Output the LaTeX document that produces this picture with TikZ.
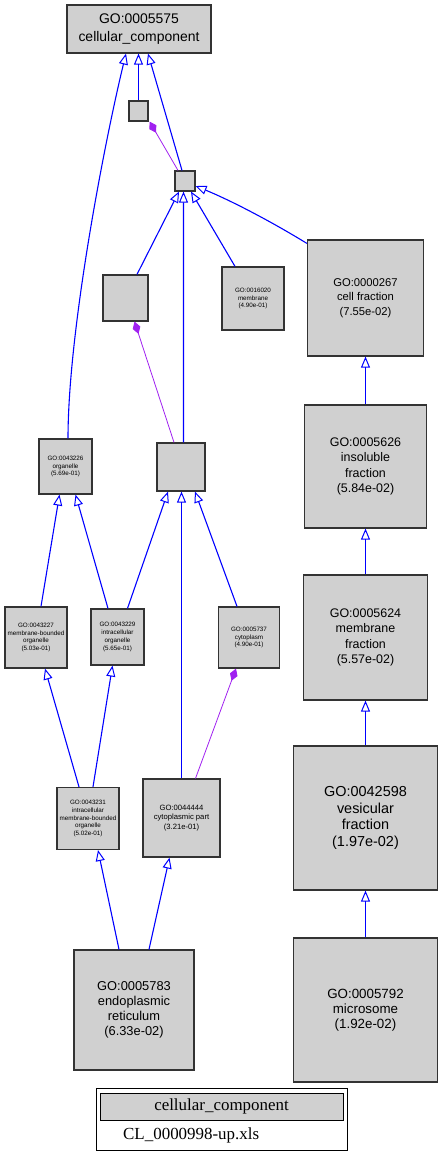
\documentclass[tikz,border=0pt]{standalone}
\usepackage{fontspec}
\setmainfont{Liberation Sans}
\newfontfamily\legendfont{Liberation Serif}
\usetikzlibrary{arrows.meta}
\definecolor{gofill}{RGB}{208,208,208}
\definecolor{isablue}{RGB}{0,0,255}
\definecolor{partpurple}{RGB}{160,32,240}
\begin{document}
\begin{tikzpicture}[x=1bp,y=-1bp,
  gobox/.style={draw=black!80, fill=gofill, line width=1.2pt, inner sep=0pt, align=center},
  tinyfont/.style={font=\fontsize{6.3}{7.9}\selectfont},
  isa/.style={draw=isablue, line width=1.1pt, -{Triangle[open, length=11pt, width=9pt, line width=1pt]}},
  isav/.style={isa, line width=1.45pt, -{Triangle[open, length=11pt, width=9pt, line width=1pt]}},
  partof/.style={draw=partpurple, line width=0.8pt, -{Diamond[length=13pt, width=8pt, fill=partpurple]}}]
\useasboundingbox (0,0) rectangle (443,1161);
% nodes
\node[gobox, minimum width=144bp, minimum height=48bp, font=\fontsize{14}{18}\selectfont] (root) at (139,29) {GO:0005575\\cellular\_component};
\node[gobox, minimum width=19bp, minimum height=20bp] (A) at (138.5,111) {};
\node[gobox, minimum width=20bp, minimum height=20bp] (B) at (185,181) {};
\node[gobox, minimum width=45bp, minimum height=46bp] (C) at (125.5,298) {};
\node[gobox, minimum width=62bp, minimum height=63bp, tinyfont] (mem) at (253,298.5) {GO:0016020\\membrane\\(4.90e-01)};
\node[gobox, minimum width=116bp, minimum height=116bp, font=\fontsize{11.3}{14.3}\selectfont] (cf) at (365.5,298) {GO:0000267\\cell fraction\\(7.55e-02)};
\node[gobox, minimum width=53bp, minimum height=55bp, tinyfont] (org) at (65.5,466.5) {GO:0043226\\organelle\\(5.69e-01)};
\node[gobox, minimum width=48bp, minimum height=48bp] (D) at (181,467) {};
\node[gobox, minimum width=122bp, minimum height=123bp, font=\fontsize{12.5}{15.5}\selectfont] (ins) at (365.5,466.5) {GO:0005626\\insoluble\\fraction\\(5.84e-02)};
\node[gobox, minimum width=62bp, minimum height=61bp, tinyfont] (mbo) at (36,637.5) {GO:0043227\\membrane-bounded\\organelle\\(5.03e-01)};
\node[gobox, minimum width=53bp, minimum height=56bp, tinyfont] (ico) at (117.5,637) {GO:0043229\\intracellular\\organelle\\(5.65e-01)};
\node[gobox, minimum width=61bp, minimum height=61bp, tinyfont] (cyt) at (249,637.5) {GO:0005737\\cytoplasm\\(4.90e-01)};
\node[gobox, minimum width=124bp, minimum height=125bp, font=\fontsize{12.5}{15.5}\selectfont] (mf) at (365.5,637.5) {GO:0005624\\membrane\\fraction\\(5.57e-02)};
\node[gobox, minimum width=62bp, minimum height=62bp, tinyfont] (imbo) at (88,818.5) {GO:0043231\\intracellular\\membrane-bounded\\organelle\\(5.02e-01)};
\node[gobox, minimum width=77bp, minimum height=78bp, font=\fontsize{7.7}{9.2}\selectfont] (cp) at (181.5,818) {GO:0044444\\cytoplasmic part\\(3.21e-01)};
\node[gobox, minimum width=144bp, minimum height=144bp, font=\fontsize{14.5}{16.8}\selectfont] (ves) at (365.5,818) {GO:0042598\\vesicular\\fraction\\(1.97e-02)};
\node[gobox, minimum width=120bp, minimum height=120bp, font=\fontsize{12.9}{15}\selectfont] (er) at (134,1010) {GO:0005783\\endoplasmic\\reticulum\\(6.33e-02)};
\node[gobox, minimum width=144bp, minimum height=144bp, font=\fontsize{13.4}{15}\selectfont] (mic) at (365.5,1010) {GO:0005792\\microsome\\(1.92e-02)};
% is_a edges
\draw[isav] (A.north) -- (A.north |- root.south);
\draw[isa] ([xshift=-3bp]B.north) -- ([xshift=9bp]root.south);
\draw[isa] ([xshift=2.5bp]org.north) .. controls (68,330) and (105,140) .. ([xshift=-13bp]root.south);
\draw[isa] ([xshift=11.5bp]C.north) -- ([xshift=-6bp]B.south);
\draw[isav] ([xshift=2.5bp]D.north) -- ([xshift=-1.5bp]B.south);
\draw[isa] ([xshift=-18bp]mem.north) -- ([xshift=6bp]B.south);
\draw[isa] ([yshift=-4bp]cf.north west) .. controls (272,222) and (232,201) .. ([yshift=-5bp]B.east);
\draw[isav] (ins.north) -- (cf.south);
\draw[isav] (mf.north) -- (ins.south);
\draw[isav] (ves.north) -- (mf.south);
\draw[isav] (mic.north) -- (ves.south);
\draw[isa] ([xshift=5bp]mbo.north) -- ([xshift=-6bp]org.south);
\draw[isa] ([xshift=-9.5bp]ico.north) -- ([xshift=10bp]org.south);
\draw[isa] ([xshift=10bp]ico.north) -- ([xshift=-13bp]D.south);
\draw[isav] ([xshift=0.5bp]cp.north -| D.south) -- ([xshift=0.5bp]D.south);
\draw[isa] ([xshift=-12bp]cyt.north) -- ([xshift=14bp]D.south);
\draw[isa] ([xshift=-9bp]imbo.north) -- ([xshift=9bp]mbo.south);
\draw[isa] ([xshift=5bp]imbo.north) -- ([xshift=-5bp]ico.south);
\draw[isa] ([xshift=-15bp]er.north) -- ([xshift=10bp]imbo.south);
\draw[isa] ([xshift=15bp]er.north) -- ([xshift=-12bp]cp.south);
% part_of edges
\draw[partof] ([xshift=-7bp]B.north) -- ([xshift=1bp]A.south east);
\draw[partof] ([xshift=-7bp]D.north) -- ([xshift=9bp]C.south);
\draw[partof] ([xshift=14bp]cp.north) -- ([xshift=-13bp]cyt.south);
% legend
\node[draw=black, line width=1pt, minimum width=251bp, minimum height=62bp, inner sep=0pt] (leg) at (221.5,1119) {};
\node[draw=black, fill=gofill, line width=1pt, minimum width=243bp, minimum height=27bp, inner sep=0pt, font=\legendfont\fontsize{17}{20}\selectfont] (legt) at (221.5,1106.5) {cellular\_component};
\node[anchor=west, inner sep=0pt, font=\legendfont\fontsize{17}{20}\selectfont] (legf) at (123,1135) {CL\_0000998-up.xls};
\end{tikzpicture}
\end{document}
